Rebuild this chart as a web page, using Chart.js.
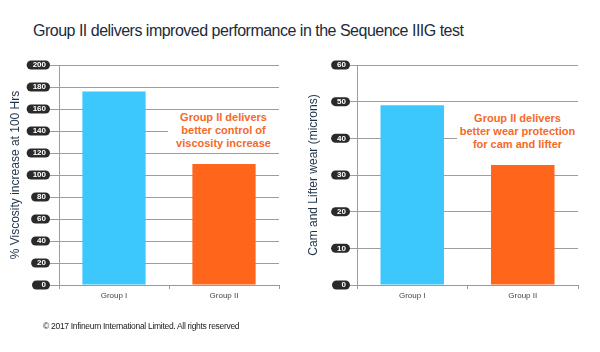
<!DOCTYPE html>
<html>
<head>
<meta charset="utf-8">
<script src="https://cdn.jsdelivr.net/npm/chart.js@4/dist/chart.umd.min.js"></script>
<style>
  html, body { margin: 0; padding: 0; background: #fff; }
  #wrap { position: relative; width: 600px; height: 352px; overflow: hidden; font-family: "Liberation Sans", Arial, sans-serif; }
  canvas { position: absolute; top: 0; }
  #title { position: absolute; left: 33px; top: 22px; font-size: 16px; line-height: 18px; letter-spacing: -0.5px; color: #1c2b3a; white-space: nowrap; }
  #copy { position: absolute; left: 43px; top: 320px; font-size: 8.5px; line-height: 12px; letter-spacing: -0.3px; color: #222; white-space: nowrap; }
  .note { position: absolute; background: #fff; color: #f5692a; font-weight: bold; font-size: 11px; line-height: 13px; text-align: center; white-space: nowrap; }
</style>
</head>
<body>
<div id="wrap">
  <div id="title">Group II delivers improved performance in the Sequence IIIG test</div>
  <canvas id="c1" width="300" height="352" style="left:0;width:300px;height:352px"></canvas>
  <canvas id="c2" width="300" height="352" style="left:300px;width:300px;height:352px"></canvas>
  <div class="note" style="left:168px;top:111px;width:111px;height:40px;">Group II delivers<br>better control of<br>viscosity increase</div>
  <div class="note" style="left:457px;top:112px;width:121px;height:40px;">Group II delivers<br>better wear protection<br>for cam and lifter</div>
  <div id="copy">© 2017 Infineum International Limited. All rights reserved</div>
</div>
<script>
const categories = ["Group I", "Group II"];
const viscosityValues = [176, 110];
const wearValues = [49, 32.7];
const viscosityTicks = [0, 20, 40, 60, 80, 100, 120, 140, 160, 180, 200];
const wearTicks = [0, 10, 20, 30, 40, 50, 60];
const barColors = ["#3cc8fd", "#ff661b"];

const pillPlugin = {
  id: 'pills',
  beforeDraw(chart, args, opts) {
    const s = chart.scales.y;
    const ctx = chart.ctx;
    const tl = s.options.grid.tickLength;
    const pad = s.options.ticks.padding;
    const right = s.right - tl - pad + 4;
    ctx.save();
    ctx.font = 'bold 8px "Liberation Sans", Arial, sans-serif';
    s.ticks.forEach((t, i) => {
      const y = s.getPixelForTick(i);
      const w = Math.max(18, ctx.measureText(String(t.label)).width + 10);
      ctx.fillStyle = '#2a2a2a';
      ctx.beginPath();
      ctx.roundRect(right - w, y - 4.5, w, 9, 4.5);
      ctx.fill();
    });
    ctx.restore();
  }
};

function makeChart(id, values, ticks, title, axisWidth, tickLen, padRight, titlePad) {
  const max = ticks[ticks.length - 1];
  const step = ticks[1] - ticks[0];
  return new Chart(document.getElementById(id), {
    type: 'bar',
    data: {
      labels: categories,
      datasets: [{
        data: values,
        backgroundColor: barColors,
        borderWidth: 0,
        barPercentage: 0.575,
        categoryPercentage: 1
      }]
    },
    options: {
      responsive: false,
      animation: false,
      devicePixelRatio: 1,
      layout: { padding: { top: 65, bottom: 47, left: 0, right: padRight } },
      plugins: { legend: { display: false }, tooltip: { enabled: false } },
      scales: {
        x: {
          offset: true,
          grid: { display: true, offset: true, drawOnChartArea: false, drawTicks: true, tickLength: 4, color: '#999' },
          border: { display: true, color: '#999' },
          ticks: { color: '#444', font: { size: 8, family: '"Liberation Sans", Arial, sans-serif' }, padding: 2 },
          afterFit: (s) => { s.height = 20; }
        },
        y: {
          min: 0, max: max,
          grid: { color: '#9d9d9d', lineWidth: 1, tickLength: tickLen, drawTicks: true },
          border: { display: true, color: '#9d9d9d' },
          ticks: {
            stepSize: step,
            color: '#ffffff',
            padding: 4,
            font: { size: 8, weight: 'bold', family: '"Liberation Sans", Arial, sans-serif' }
          },
          title: {
            display: true, text: title, color: '#1f3347',
            font: { size: 12, family: '"Liberation Sans", Arial, sans-serif' },
            padding: { top: titlePad, bottom: 0 }
          },
          afterFit: (s) => { s.width = axisWidth; }
        }
      }
    },
    plugins: [pillPlugin]
  });
}

makeChart('c1', viscosityValues, viscosityTicks, '% Viscosity increase at 100 Hrs', 59, 9, 21, 8);
makeChart('c2', wearValues, wearTicks, 'Cam and Lifter wear (microns)', 57, 7, 22, 6);
</script>
</body>
</html>
